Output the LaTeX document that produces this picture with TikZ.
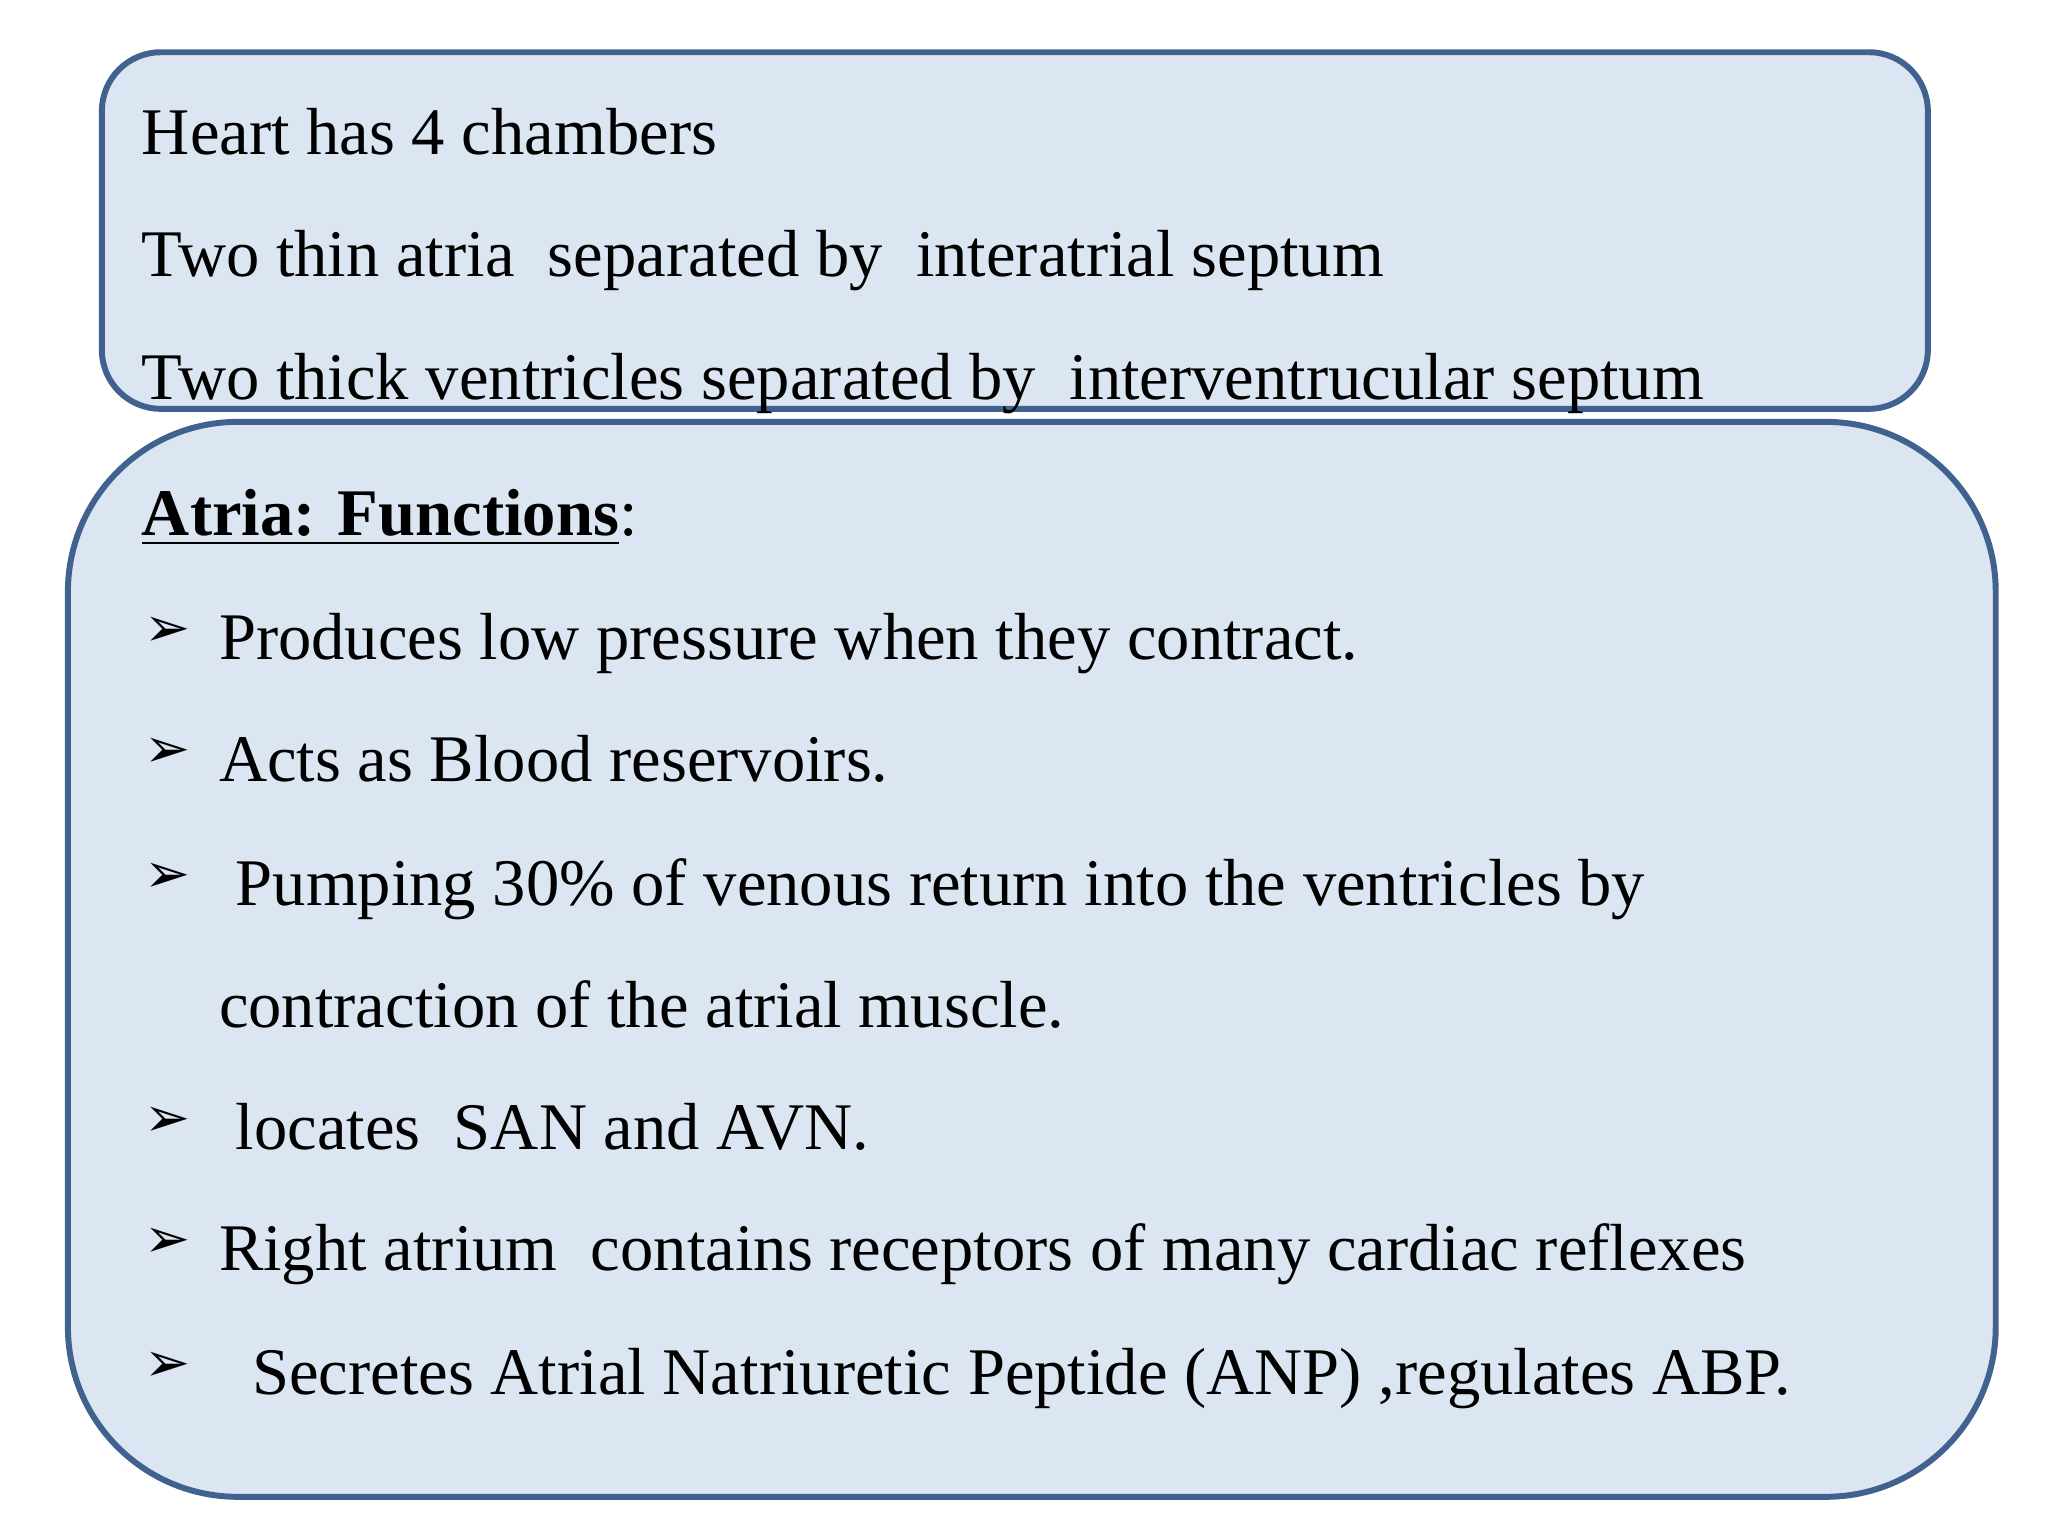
\documentclass[tikz,border=0pt]{standalone}
\usepackage{fontspec}
\setmainfont{Liberation Serif}
\newfontfamily\symf{DejaVu Sans}
\definecolor{boxfill}{HTML}{DCE6F2}
\definecolor{boxline}{HTML}{41618F}
\begin{document}
\begin{tikzpicture}[x=0.01cm,y=-0.01cm,
  panel/.style={fill=boxfill,draw=boxline,line width=1.3pt},
  txt/.style={anchor=base west,inner sep=0pt,font=\fontsize{14.5}{16}\selectfont},
  bul/.style={anchor=base west,inner sep=0pt,font=\symf\fontsize{12}{14}\selectfont}]
\useasboundingbox (0,0) rectangle (1568,1176);
\draw[panel,rounded corners=1.3cm] (52,323) rectangle (1528,1146);
\draw[panel,rounded corners=0.45cm] (78,40) rectangle (1476,313);
\node[txt] (l1) at (108,118) {Heart has 4 chambers};
\node[txt] (l2) at (108,212) {Two thin atria\ \ separated by\ \ interatrial septum};
\node[txt] (l3) at (108,306) {Two thick ventricles separated by\ \ interventrucular septum};
\node[txt] (h) at (108,410) {\underline{\textbf{Atria: Functions}}:};
\foreach \y/\n in {495/b1,588/b2,683/b3,870/b4,963/b5,1058/b6}
  \node[bul] (\n) at (110,\y) {➢};
\node[txt] (t1) at (167,505) {Produces low pressure when they contract.};
\node[txt] (t2) at (167,598) {Acts as Blood reservoirs.};
\node[txt] (t3) at (167,693) {\ Pumping 30\% of venous return into the ventricles by};
\node[txt] (t3b) at (167,787) {contraction of the atrial muscle.};
\node[txt] (t4) at (167,880) {\ locates\ \ SAN and AVN.};
\node[txt] (t5) at (167,973) {Right atrium\ \ contains receptors of many cardiac reflexes};
\node[txt] (t6) at (167,1068) {\ \ Secretes Atrial Natriuretic Peptide (ANP) ,regulates ABP.};
\end{tikzpicture}
\end{document}
